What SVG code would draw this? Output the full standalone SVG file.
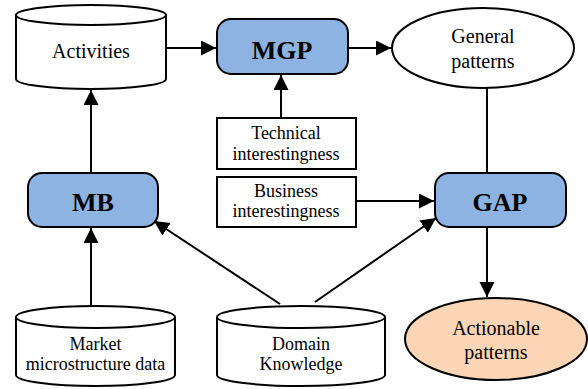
<svg xmlns="http://www.w3.org/2000/svg" width="588" height="389" viewBox="0 0 588 389">
<style>
.s{fill:#fff;stroke:#000;stroke-width:2}
.p{fill:#8DB3E2;stroke:#000;stroke-width:2}
.t{font-family:"Liberation Serif","Times New Roman",serif;font-size:18px;text-anchor:middle;fill:#000}
.tl{font-size:20px}
.b{font-family:"Liberation Serif","Times New Roman",serif;font-size:26px;font-weight:bold;text-anchor:middle;fill:#000}
.c{fill:none;stroke:#000;stroke-width:2}
</style>
<defs>
<marker id="ah" markerUnits="userSpaceOnUse" markerWidth="16" markerHeight="16" refX="15" refY="7.5" orient="auto">
<path d="M0,0 L15,7.5 L0,15 z" fill="#000"/>
</marker>
</defs>
<g id="connectors">
<path class="c" d="M166,48 L216,48" marker-end="url(#ah)"/>
<path class="c" d="M348,48 L391,48" marker-end="url(#ah)"/>
<path class="c" d="M281,118 L281,75" marker-end="url(#ah)"/>
<path class="c" d="M91,173 L91,90" marker-end="url(#ah)"/>
<path class="c" d="M91,306 L91,228" marker-end="url(#ah)"/>
<path class="c" d="M356,201 L434,201" marker-end="url(#ah)"/>
<path class="c" d="M487,88 L487,173"/>
<path class="c" d="M487,227 L487,297" marker-end="url(#ah)"/>
<path class="c" d="M280,304 L154,221" marker-end="url(#ah)"/>
<path class="c" d="M315,302 L436,218" marker-end="url(#ah)"/>
</g>
<g id="activities">
<path class="s" d="M16,15 L16,79 A75,10 0 0 0 166,79 L166,15"/>
<ellipse class="s" cx="91" cy="15" rx="75" ry="10"/>
<text class="t tl" x="91" y="58">Activities</text>
</g>
<g id="mgp">
<rect class="p" x="217" y="19" width="131" height="55" rx="14"/>
<text class="b" x="282" y="59">MGP</text>
</g>
<g id="general">
<ellipse class="s" cx="483" cy="48" rx="91" ry="40"/>
<text class="t tl" x="483" y="43">General</text>
<text class="t tl" x="483" y="68">patterns</text>
</g>
<g id="technical">
<rect class="s" x="217" y="118" width="139" height="51"/>
<text class="t" x="286" y="139">Technical</text>
<text class="t" x="286" y="160">interestingness</text>
</g>
<g id="business">
<rect class="s" x="217" y="177" width="139" height="50"/>
<text class="t" x="286" y="197">Business</text>
<text class="t" x="286" y="217">interestingness</text>
</g>
<g id="mb">
<rect class="p" x="28" y="173" width="130" height="54" rx="14"/>
<text class="b" x="93" y="211">MB</text>
</g>
<g id="gap">
<rect class="p" x="435" y="173" width="131" height="54" rx="14"/>
<text class="b" x="500" y="211">GAP</text>
</g>
<g id="actionable">
<ellipse cx="496" cy="339" rx="91" ry="41" fill="#FBD5B5" stroke="#000" stroke-width="2"/>
<text class="t tl" x="496" y="335">Actionable</text>
<text class="t tl" x="496" y="359">patterns</text>
</g>
<g id="market">
<path class="s" d="M16,317 L16,375 A79.5,11 0 0 0 175,375 L175,317"/>
<ellipse class="s" cx="95.5" cy="317" rx="79.5" ry="11"/>
<text class="t" x="95.5" y="350">Market</text>
<text class="t" x="95.5" y="370">microstructure data</text>
</g>
<g id="domain">
<path class="s" d="M217,317 L217,375 A84,11 0 0 0 385,375 L385,317"/>
<ellipse class="s" cx="301" cy="317" rx="84" ry="11"/>
<text class="t" x="301" y="350">Domain</text>
<text class="t" x="301" y="370">Knowledge</text>
</g>
</svg>
